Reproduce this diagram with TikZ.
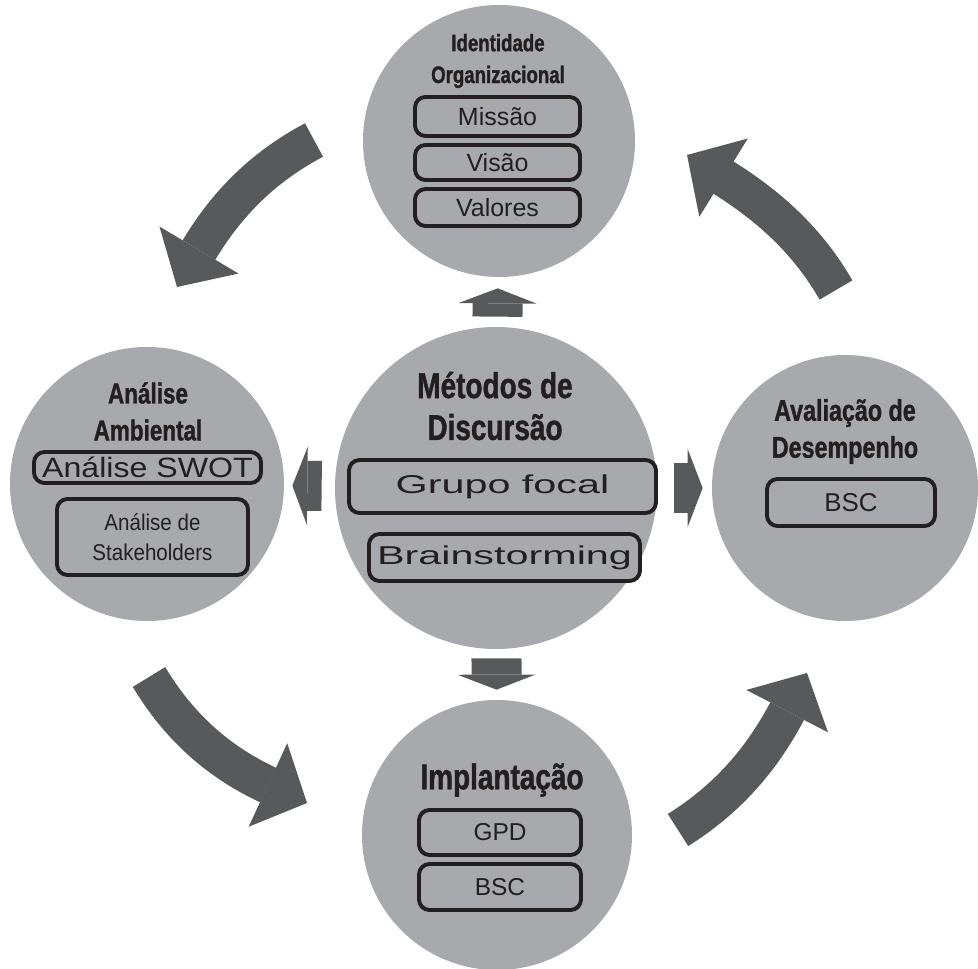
\documentclass[tikz,border=0pt]{standalone}
\usepackage{fontspec}
\setmainfont{Liberation Sans}
\newfontfamily\headfont{Liberation Sans}[FakeStretch=0.78, FakeBold=1.2]
\newfontfamily\widefont{Liberation Sans}[FakeStretch=1.6]
\newfontfamily\swotfont{Liberation Sans}[FakeStretch=1.15]
\newfontfamily\narrowfont{Liberation Sans}[FakeStretch=0.9]
\usepackage{tikz}
\usetikzlibrary{arrows.meta}

\definecolor{discgray}{HTML}{A7A9AC}
\definecolor{arrowgray}{HTML}{58595B}
\definecolor{inkblack}{HTML}{231F20}
\newcommand{\headsize}[2]{\headfont\bfseries\fontsize{#1}{#2}\selectfont}

\begin{document}
\begin{tikzpicture}[
    disc/.style={circle, fill=discgray, inner sep=0pt, minimum size=#1},
    head/.style={align=center, text=inkblack, inner sep=0pt},
    item/.style={draw=inkblack, line width=2.2pt, rounded corners=6pt, fill=discgray, inner sep=1pt, text=inkblack},
    cycarrow/.style={arrowgray, line width=0.76cm, looseness=0.9, -{Triangle[length=0.86cm, width=1.84cm, line width=0pt]}},
    smallarrow/.style={arrowgray, line width=1cm, -{Triangle[length=0.3cm, width=1.56cm, line width=0pt]}}
]
            \useasboundingbox (0,0) rectangle (19.56,-19.38);

            \node[disc=5.44cm] (ident) at (9.98,-2.82) {};
            \node[disc=6.44cm] (metodos) at (9.92,-9.76) {};
            \node[disc=5.48cm] (ambiente) at (2.94,-9.68) {};
            \node[disc=5.32cm] (avalia) at (16.9,-9.76) {};
            \node[disc=5.4cm] (implant) at (9.94,-16.7) {};

            \draw[smallarrow, shorten <=0.2cm, shorten >=0.22cm] (metodos) -- (ident);
            \draw[smallarrow, shorten <=0.26cm, shorten >=0.16cm] (metodos) -- (ambiente);
            \draw[smallarrow, shorten <=0.34cm, shorten >=0.18cm] (metodos) -- (avalia);
            \draw[smallarrow, shorten <=0.18cm, shorten >=0.2cm] (metodos) -- (implant);

            \coordinate (a1s) at (6.28,-2.8);
            \coordinate (a1m) at (3.98,-5.0);
            \coordinate (a1e) at (3.54,-5.74);
            \coordinate (a2s) at (2.98,-13.54);
            \coordinate (a2m) at (5.36,-15.7);
            \coordinate (a2e) at (6.14,-16.06);
            \coordinate (a3s) at (13.56,-16.6);
            \coordinate (a3m) at (15.74,-14.23);
            \coordinate (a3e) at (16.14,-13.46);
            \coordinate (a4s) at (16.72,-5.8);
            \coordinate (a4m) at (14.45,-3.54);
            \coordinate (a4e) at (13.74,-3.1);
            \draw[cycarrow] (a1s) to[out=208, in=59] (a1m) -- (a1e);
            \draw[cycarrow] (a2s) to[out=-59, in=155] (a2m) -- (a2e);
            \draw[cycarrow] (a3s) to[out=32, in=242] (a3m) -- (a3e);
            \draw[cycarrow] (a4s) to[out=120, in=-32] (a4m) -- (a4e);

            \node[head, font=\headsize{13.6}{18.1}] (identtit) at (9.96,-1.22) {Identidade\\Organizacional};
            \node[item, minimum width=3.3cm, minimum height=0.78cm, font=\fontsize{14.2}{17}\selectfont] (missao) at (9.95,-2.33) {Missão};
            \node[item, minimum width=3.3cm, minimum height=0.7cm, font=\fontsize{14.2}{17}\selectfont] (visao) at (9.95,-3.25) {Visão};
            \node[item, minimum width=3.3cm, minimum height=0.74cm, font=\fontsize{14.2}{17}\selectfont] (valores) at (9.95,-4.15) {Valores};

            \node[head, font=\headsize{16.4}{21}] (ambtit) at (2.96,-8.23) {Análise\\Ambiental};
            \node[item, minimum width=4.54cm, minimum height=0.62cm, font=\swotfont\fontsize{15.9}{18}\selectfont] (swot) at (2.95,-9.35) {Análise SWOT};
            \node[item, align=center, minimum width=3.82cm, minimum height=1.52cm, font=\narrowfont\fontsize{13}{17}\selectfont] (stake) at (3.05,-10.74) {Análise de\\Stakeholders};

            \node[head, font=\headsize{20.4}{23.8}] (mettit) at (9.9,-8.12) {Métodos de\\Discursão};
            \node[item, minimum width=6.14cm, minimum height=1.06cm, font=\widefont\fontsize{14.7}{17}\selectfont] (grupo) at (10.05,-9.73) {Grupo focal};
            \node[item, minimum width=5.42cm, minimum height=0.94cm, font=\widefont\fontsize{14.7}{17}\selectfont] (brain) at (10.09,-11.15) {Brainstorming};

            \node[head, font=\headsize{17}{21}] (avtit) at (16.9,-8.63) {Avaliação de\\Desempenho};
            \node[item, minimum width=3.36cm, minimum height=0.94cm, font=\fontsize{14.7}{17}\selectfont] (bscav) at (17.02,-10.05) {BSC};

            \node[head, font=\headsize{20.4}{24}] (imptit) at (10.04,-15.6) {Implantação};
            \node[item, minimum width=3.24cm, minimum height=0.9cm, font=\fontsize{13.9}{17}\selectfont] (gpd) at (10,-16.65) {GPD};
            \node[item, minimum width=3.24cm, minimum height=0.92cm, font=\fontsize{13.9}{17}\selectfont] (bscimp) at (10,-17.74) {BSC};
        \end{tikzpicture}
\end{document}
